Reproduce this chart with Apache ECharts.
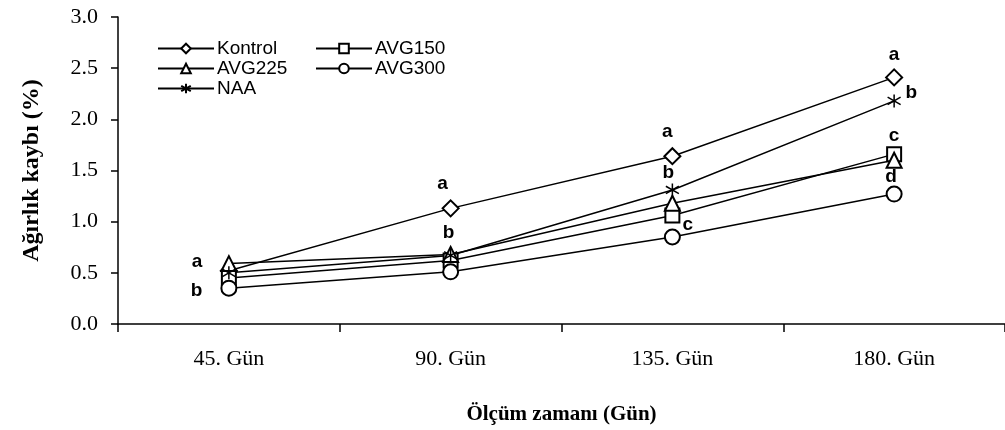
<!DOCTYPE html>
<html>
<head>
<meta charset="utf-8">
<script src="https://cdn.jsdelivr.net/npm/echarts@6/dist/echarts.min.js"></script>
<style>html,body{margin:0;padding:0;background:#fff}#c{width:1005px;height:430px}</style>
</head>
<body>
<div id="c"></div>
<script>
var categories = ['45. Gün', '90. Gün', '135. Gün', '180. Gün'];
var yTicks = [0, 0.5, 1.0, 1.5, 2.0, 2.5, 3.0];

var kontrol = [0.52, 1.13, 1.64, 2.41];
var avg150  = [0.45, 0.62, 1.06, 1.66];
var avg225  = [0.59, 0.68, 1.18, 1.60];
var avg300  = [0.35, 0.51, 0.85, 1.27];
var naa     = [0.50, 0.67, 1.31, 2.18];

var kontrolLetters = ['', 'a', 'a', 'a'];
var avg150Letters  = ['', '', 'c', 'c'];
var avg225Letters  = ['a', '', '', ''];
var avg300Letters  = ['b', '', '', 'd'];
var naaLetters     = ['', 'b', 'b', 'b'];

var starPath = 'path://M0,-7L0,7M-6,-4L6,4M-6,4L6,-4';

var labelPos = {
  Kontrol: [null, {position:'top', distance:6, offset:[-8,0]}, {position:'top', distance:6, offset:[-5,0]}, {position:'top', distance:4}],
  AVG150: [null, null, {position:'right', distance:2, offset:[0,9]}, {position:'top', distance:1}],
  AVG225: [{position:'left', distance:18, offset:[0,-2]}, null, null, null],
  AVG300: [{position:'left', distance:18, offset:[0,3]}, null, null, {position:'top', distance:-1, offset:[-3,0]}],
  NAA: [null, {position:'top', distance:6, offset:[-2,0]}, {position:'top', distance:0, offset:[-4,0]}, {position:'right', distance:4, offset:[0,-8]}]
};

function build(name, vals, letters, symbol, size) {
  return {
    name: name, type: 'line', data: vals.map(function (v, i) {
      var item = {value: v};
      if (letters[i]) {
        var p = labelPos[name][i];
        item.label = {show: true, formatter: letters[i], position: p.position, distance: p.distance, offset: p.offset || [0,0]};
      }
      return item;
    }),
    symbol: symbol, symbolSize: size, showSymbol: true,
    lineStyle: {color: '#000', width: 1.5},
    itemStyle: {color: symbol.indexOf('path') === 0 ? '#fff' : '#000', borderColor: '#000', borderWidth: 1.5},
    label: {show: false, color: '#000', fontFamily: 'Liberation Sans', fontWeight: 'bold', fontSize: 19},
    emphasis: {disabled: true},
    animation: false
  };
}

var series = [
  build('Kontrol', kontrol, kontrolLetters, 'emptyDiamond', 16),
  build('AVG150', avg150, avg150Letters, 'emptyRect', 14),
  build('AVG225', avg225, avg225Letters, 'emptyTriangle', 15),
  build('AVG300', avg300, avg300Letters, 'emptyCircle', 15),
  build('NAA', naa, naaLetters, starPath, 13)
];

function leg(name, left, top) {
  return {data: [name], left: left, top: top, itemWidth: 56, itemHeight: 12, itemGap: 0,
    textStyle: {fontFamily: 'Liberation Sans', fontSize: 19, color: '#000', padding: [0,0,0,-2]},
    selectedMode: false, padding: 0};
}

var chart = echarts.init(document.getElementById('c'), null, {renderer: 'canvas'});
chart.setOption({
  backgroundColor: '#fff',
  animation: false,
  grid: {left: 118, top: 17, bottom: 105, right: -9, containLabel: false},
  legend: [leg('Kontrol', 157, 39), leg('AVG150', 315, 39), leg('AVG225', 157, 59), leg('AVG300', 315, 59), leg('NAA', 157, 79)],
  xAxis: {
    type: 'category', data: categories, boundaryGap: true,
    axisLine: {lineStyle: {color: '#000', width: 1.5}},
    axisTick: {show: true, length: 8, inside: false, lineStyle: {color: '#000', width: 1.5}},
    axisLabel: {color: '#000', fontFamily: 'Liberation Serif', fontSize: 22, margin: 24},
    name: 'Ölçüm zamanı (Gün)', nameLocation: 'middle', nameGap: 80,
    nameTextStyle: {color: '#000', fontFamily: 'Liberation Serif', fontWeight: 'bold', fontSize: 21}
  },
  yAxis: {
    type: 'value', min: yTicks[0], max: yTicks[yTicks.length - 1], interval: 0.5,
    axisLine: {show: true, lineStyle: {color: '#000', width: 1.5}},
    axisTick: {show: true, length: 7, lineStyle: {color: '#000', width: 1.5}},
    splitLine: {show: false},
    axisLabel: {color: '#000', fontFamily: 'Liberation Serif', fontSize: 22, margin: 20, formatter: function (v) { return v.toFixed(1); }},
    name: 'Ağırlık kaybı (%)', nameLocation: 'middle', nameGap: 74, nameRotate: 90,
    nameTextStyle: {color: '#000', fontFamily: 'Liberation Serif', fontWeight: 'bold', fontSize: 24}
  },
  series: series
});
</script>
</body>
</html>
